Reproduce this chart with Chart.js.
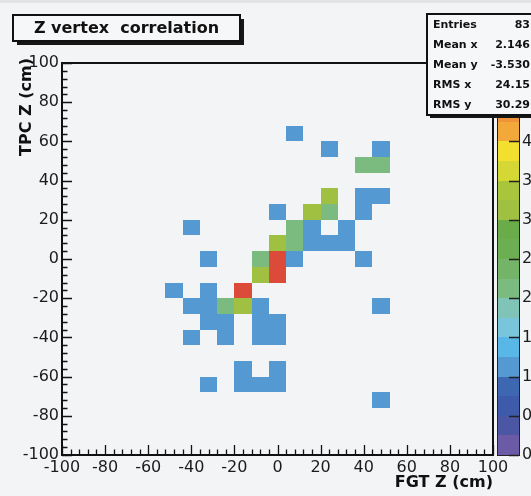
<!DOCTYPE html>
<html>
<head>
<meta charset="utf-8">
<script src="https://cdn.jsdelivr.net/npm/chart.js@4.4.1/dist/chart.umd.min.js"></script>
<style>
  html, body { margin: 0; padding: 0; background: #f3f4f6; }
  #wrap { width: 531px; height: 496px; position: relative; }
</style>
</head>
<body>
<div id="wrap"><canvas id="c" width="531" height="496"></canvas></div>
<script>
// Z vertex correlation: FGT z vs TPC z, 8 cm bins, counts per bin
const cellX = [
  8,
  24, 48,
  40, 48,
  24, 40, 48,
  0, 16, 24, 40,
  -40, 8, 16, 32,
  0, 8, 16, 24, 32,
  -32, -8, 0, 8, 40,
  -8, 0,
  -48, -32, -16,
  -40, -32, -24, -16, -8, 48,
  -32, -24, -8, 0,
  -40, -24, -8, 0,
  -16, 0,
  -32, -16, -8, 0,
  48
];
const cellY = [
  64,
  56, 56,
  48, 48,
  32, 32, 32,
  24, 24, 24, 24,
  16, 16, 16, 16,
  8, 8, 8, 8, 8,
  0, 0, 0, 0, 0,
  -8, -8,
  -16, -16, -16,
  -24, -24, -24, -24, -24, -24,
  -32, -32, -32, -32,
  -40, -40, -40, -40,
  -56, -56,
  -64, -64, -64, -64,
  -72
];
const cellCount = [
  1,
  1, 1,
  2, 2,
  3, 1, 1,
  1, 3, 2, 1,
  1, 2, 1, 1,
  3, 2, 1, 1, 1,
  1, 2, 5, 1, 1,
  3, 5,
  1, 1, 5,
  1, 1, 2, 3, 1, 1,
  1, 1, 1, 1,
  1, 1, 1, 1,
  1, 1,
  1, 1, 1, 1,
  1
];

const binWidth = 8;
const axisRange = [-100, 100];
const axisLabelStep = 20;
const minorStep = 4;
const zRange = [0, 5];
const zLabelStep = 0.5;

const statNames = ['Entries', 'Mean x', 'Mean y', 'RMS x', 'RMS y'];
const statValues = ['83', '2.146', '-3.530', '24.15', '30.29'];

// colour palette, bottom (z = 0) to top (z = zmax)
const palette = [
  '#6b5aa6', '#4b56a5', '#3e5aab', '#3d67b1',
  '#5599d2', '#59b7e8', '#78c5dc', '#7fc4b6',
  '#7cbb80', '#74b468', '#6cae52', '#6aab4a',
  '#9fc040', '#a9c53c', '#d5d834', '#f2df2e',
  '#f2a93a', '#f0923a', '#e86c38', '#dc4b3a'
];

function colourFor(v) {
  const n = palette.length;
  let i = Math.floor((v - zRange[0]) / (zRange[1] - zRange[0]) * n);
  return palette[Math.max(0, Math.min(n - 1, i))];
}

const FONT = "'DejaVu Sans', 'Liberation Sans', sans-serif";
Chart.defaults.font.family = FONT;

const colzPlugin = {
  id: 'colz',
  beforeDraw(chart) {
    const ctx = chart.ctx;
    ctx.save();
    ctx.fillStyle = '#f3f4f6';
    ctx.fillRect(0, 0, chart.width, chart.height);
    ctx.fillStyle = '#e2e3e5';
    ctx.fillRect(0, 0, chart.width, 3);
    ctx.restore();
  },
  beforeDatasetsDraw(chart) {
    const { ctx, scales: { x, y } } = chart;
    const pts = chart.data.datasets[0].data;
    ctx.save();
    pts.forEach(p => {
      const x0 = Math.round(x.getPixelForValue(p.x - binWidth / 2));
      const x1 = Math.round(x.getPixelForValue(p.x + binWidth / 2));
      const y0 = Math.round(y.getPixelForValue(p.y + binWidth / 2));
      const y1 = Math.round(y.getPixelForValue(p.y - binWidth / 2));
      ctx.fillStyle = colourFor(p.v);
      ctx.fillRect(x0, y0, x1 - x0, y1 - y0);
    });
    ctx.restore();
  },
  afterDraw(chart) {
    const { ctx, chartArea: a, scales: { x, y, z } } = chart;
    ctx.save();

    // vertical axis title, right-aligned a little above the frame top
    ctx.save();
    ctx.translate(27, a.top - 5);
    ctx.rotate(-Math.PI / 2);
    ctx.fillStyle = '#111';
    ctx.font = "bold 16px " + FONT;
    ctx.textAlign = 'right';
    ctx.textBaseline = 'middle';
    ctx.fillText('TPC Z (cm)', 0, 0);
    ctx.restore();

    // frame
    ctx.strokeStyle = '#111';
    ctx.lineWidth = 2;
    ctx.strokeRect(a.left, a.top, a.right - a.left, a.bottom - a.top);

    // inward tick marks on bottom and left axes
    ctx.lineWidth = 1.3;
    ctx.beginPath();
    for (let v = axisRange[0]; v <= axisRange[1] + 1e-9; v += minorStep) {
      const major = Math.abs(v % axisLabelStep) < 1e-9;
      const len = major ? 10 : 5.5;
      const px = Math.round(x.getPixelForValue(v)) + 0.5;
      ctx.moveTo(px, a.bottom);
      ctx.lineTo(px, a.bottom - len);
      const py = Math.round(y.getPixelForValue(v)) + 0.5;
      ctx.moveTo(a.left, py);
      ctx.lineTo(a.left + len, py);
    }
    ctx.stroke();

    // colour bar
    const bl = a.right + 4, bw = 22;
    const n = palette.length;
    const dz = (zRange[1] - zRange[0]) / n;
    for (let i = 0; i < n; i++) {
      const yA = z.getPixelForValue(zRange[0] + i * dz);
      const yB = z.getPixelForValue(zRange[0] + (i + 1) * dz);
      ctx.fillStyle = palette[i];
      ctx.fillRect(bl, Math.round(yB), bw, Math.round(yA) - Math.round(yB));
    }
    ctx.strokeStyle = '#222';
    ctx.lineWidth = 1;
    ctx.strokeRect(bl + 0.5, a.top + 0.5, bw, a.bottom - a.top);
    ctx.lineWidth = 1.5;
    ctx.beginPath();
    for (let v = zRange[0]; v <= zRange[1] + 1e-9; v += zLabelStep) {
      const py = Math.round(z.getPixelForValue(v)) + 0.5;
      ctx.moveTo(bl + bw, py);
      ctx.lineTo(bl + bw - 10, py);
    }
    ctx.stroke();

    // title box with shadow
    const tb = { l: 13, t: 15, w: 227, h: 26 };
    ctx.fillStyle = '#161616';
    ctx.fillRect(tb.l + 4, tb.t + 4, tb.w, tb.h);
    ctx.fillStyle = '#f6f7f9';
    ctx.fillRect(tb.l, tb.t, tb.w, tb.h);
    ctx.strokeStyle = '#111';
    ctx.lineWidth = 2;
    ctx.strokeRect(tb.l, tb.t, tb.w, tb.h);
    ctx.fillStyle = '#111';
    ctx.font = "bold 16px " + FONT;
    ctx.textAlign = 'center';
    ctx.textBaseline = 'middle';
    ctx.fillText('Z vertex  correlation', tb.l + tb.w / 2, tb.t + tb.h / 2 + 1);

    // statistics box
    const sb = { l: 427, t: 14, w: 140, h: 101 };
    ctx.fillStyle = '#161616';
    ctx.fillRect(sb.l + 3, sb.t + 3, sb.w, sb.h);
    ctx.fillStyle = '#f6f7f9';
    ctx.fillRect(sb.l, sb.t, sb.w, sb.h);
    ctx.strokeStyle = '#111';
    ctx.lineWidth = 2;
    ctx.strokeRect(sb.l, sb.t, sb.w, sb.h);
    ctx.fillStyle = '#111';
    ctx.font = "bold 11px " + FONT;
    ctx.textBaseline = 'middle';
    statNames.forEach((name, i) => {
      const ty = sb.t + 11 + i * 20;
      ctx.textAlign = 'left';
      ctx.fillText(name, sb.l + 6, ty);
      ctx.textAlign = 'right';
      ctx.fillText(statValues[i], 530, ty);
    });

    ctx.restore();
  }
};

const points = cellX.map((v, i) => ({ x: v, y: cellY[i], v: cellCount[i] }));

new Chart(document.getElementById('c'), {
  type: 'scatter',
  data: { datasets: [{ data: points, pointRadius: 0, pointHoverRadius: 0 }] },
  options: {
    responsive: false,
    animation: false,
    events: [],
    layout: { padding: { top: 63, left: 0, right: 0, bottom: 0 } },
    plugins: { legend: { display: false }, tooltip: { enabled: false }, title: { display: false } },
    scales: {
      x: {
        type: 'linear', position: 'bottom', min: axisRange[0], max: axisRange[1],
        afterFit: s => { s.height = 41; },
        grid: { display: false, drawTicks: false }, border: { display: false },
        ticks: { stepSize: axisLabelStep, padding: 3, color: '#1c1c1c', font: { size: 16 }, maxRotation: 0, autoSkip: false },
        title: { display: true, text: 'FGT Z (cm)', align: 'end', color: '#111', font: { size: 16, weight: 'bold' }, padding: { top: 0, bottom: 4 } }
      },
      y: {
        type: 'linear', position: 'left', min: axisRange[0], max: axisRange[1],
        afterFit: s => { s.width = 62; },
        grid: { display: false, drawTicks: false }, border: { display: false },
        ticks: { stepSize: axisLabelStep, padding: 3, color: '#1c1c1c', font: { size: 16 }, autoSkip: false }
      },
      z: {
        type: 'linear', position: 'right', min: zRange[0], max: zRange[1],
        afterFit: s => { s.width = 38; },
        grid: { display: false, drawTicks: false }, border: { display: false },
        ticks: { stepSize: zLabelStep, padding: 29, color: '#1c1c1c', font: { size: 16 }, autoSkip: false }
      }
    }
  },
  plugins: [colzPlugin]
});
</script>
</body>
</html>
